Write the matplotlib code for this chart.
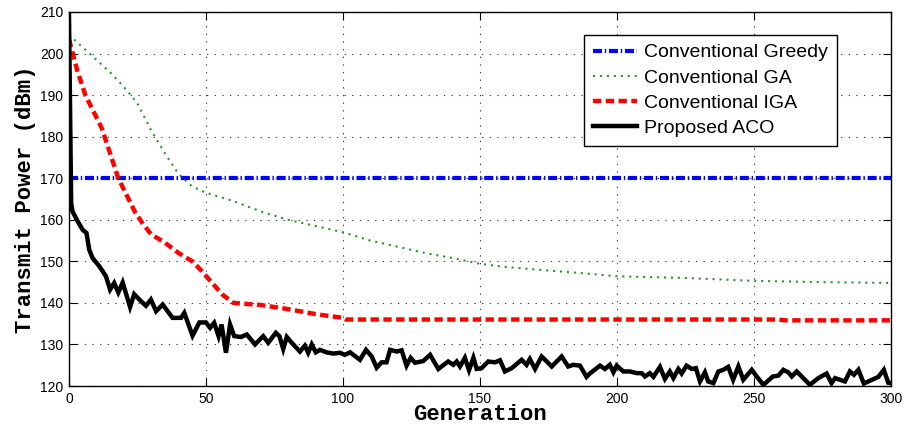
import numpy as np
import matplotlib
matplotlib.use("Agg")
import matplotlib.pyplot as plt

# data
greedy_x = [0, 300]
greedy_y = [170, 170]

ga_x = [0, 5, 10, 15, 20, 25, 30, 35, 40, 45, 50, 60, 70, 80, 90, 100, 110, 120,
        130, 140, 150, 160, 175, 190, 200, 225, 250, 275, 300]
ga_y = [204.5, 201.5, 198.5, 195.5, 192, 188, 181.5, 176, 171, 168, 166.5, 164.5,
        162, 160, 158.5, 157, 155, 153.5, 152, 150.8, 149.4, 148.6, 147.8, 147,
        146.4, 146, 145.3, 145, 144.8]

iga_x = [0, 3, 6, 9, 12, 15, 18, 21, 24, 27, 30, 35, 40, 45, 48, 52, 56, 60, 70,
         80, 90, 100, 101, 258, 262, 300]
iga_y = [203.5, 196, 190, 186, 182, 176, 170, 166, 162, 159, 156.5, 154.5, 152, 150,
         148, 145, 142, 140, 139.5, 138.5, 137.3, 136.4, 136.0, 136.0, 135.8, 135.8]

aco_x = [0, 0.8, 1.3, 3.2, 5, 6.4, 7.4, 8.6, 11.1, 13.5, 15, 16.5, 18, 19.6, 22.3,
         23.8, 25.7, 28.1, 29.9, 31.8, 34.2, 37.8, 40.9, 42.1, 45.1, 47.6, 50, 51.5,
         53, 54.6, 55.7, 57.3, 58.8, 60.3, 62.8, 64.9, 67.9, 70.9, 72.7, 75.5, 76.8,
         78.2, 79.5, 81.3, 84.3, 86.1, 87.3, 88.6, 90.1, 91.6, 94, 96.5, 98.9, 100.7,
         102.6, 106.2, 108.4, 110.5, 112.3, 114.1, 115.9, 117.2, 119.6, 121.4, 123.2,
         124.7, 126.3, 129.3, 131.8, 134.8, 138.4, 140.3, 141.5, 142.7, 144.5, 146,
         147.6, 148.8, 150.6, 153, 155.5, 157.3, 159.1, 161.6, 165.2, 167, 168.2,
         170.1, 172.5, 176.2, 179.8, 182.2, 184.1, 186.5, 188.9, 190.1, 193.8, 195.6,
         197.4, 198.7, 199.9, 202.3, 204.7, 207.2, 209, 210.2, 212, 213.3, 215.7,
         217.5, 219.3, 220.6, 222.4, 223.6, 225.4, 227.3, 228.8, 230.3, 232.1, 233.3,
         235.2, 237, 238.8, 240.6, 242.4, 244.3, 246.1, 249.2, 251, 253.4, 254,
         256.9, 258.9, 260.7, 262.5, 263.8, 265.6, 270.4, 273.5, 276.5, 278.3, 279.6,
         283.2, 285, 286.5, 288.1, 290.1, 295.4, 297.4, 299, 300]
aco_y = [210, 164, 162, 159.6, 157.6, 156.8, 152.8, 150.8, 148.8, 146.4, 143.2,
         144.8, 142.5, 144.9, 139, 142.1, 140.8, 139.3, 140.8, 138, 139.6, 136.4,
         136.4, 137.6, 132.1, 135.3, 135.3, 134, 135.2, 132, 134.8, 128, 134.8, 132,
         131.8, 132.4, 130, 132, 130.4, 132.8, 132, 128.9, 131.8, 130.4, 128.3, 129.7,
         128, 130, 128.1, 128.7, 128.1, 127.8, 128, 127.5, 128.1, 126.3, 128.7, 127.1,
         124.4, 125.7, 125.7, 128.7, 128.3, 128.6, 124.9, 126.8, 125.6, 126, 127.5,
         124.1, 125.9, 125.1, 125.9, 124.7, 126.8, 123.8, 126.8, 124.1, 124.3, 125.9,
         125.7, 126.2, 123.5, 124.3, 126.3, 125.1, 126.5, 124.1, 127.1, 124.7, 127.1,
         124.7, 125.1, 124.9, 122.2, 123, 124.9, 124.1, 125.1, 123.3, 124.9, 123.5,
         123.5, 123.1, 123.1, 122.3, 123.1, 122.2, 124.6, 121.7, 123.5, 121.9, 124.1,
         123, 124.9, 124.1, 124.3, 121.1, 123.3, 121.1, 120.7, 123.5, 123.9, 124.6,
         121.5, 124.7, 121.5, 123.9, 122.3, 120.3, 120.6, 122.3, 122.5, 123.9, 123.3,
         122.3, 123.5, 120.3, 121.9, 123, 120.7, 121.9, 121.1, 123.5, 122.7, 123.9,
         120.6, 122.2, 123.9, 120.8, 120.7]

x_ticks = [0, 50, 100, 150, 200, 250, 300]
y_ticks = [120, 130, 140, 150, 160, 170, 180, 190, 200, 210]

plt.rcParams["font.family"] = "Liberation Sans"
plt.rcParams["lines.scale_dashes"] = False

fig = plt.figure(figsize=(9.05, 4.30), dpi=100)
ax = fig.add_axes([0.0762, 0.1023, 0.9083, 0.8698])

ax.plot(greedy_x, greedy_y, color="#0000ff", lw=3, ls=(0, (6.5, 2, 1.0, 2)),
        label="Conventional Greedy", solid_capstyle="butt", dash_capstyle="butt")
ax.plot(ga_x, ga_y, color="#2a962a", lw=1.5, ls=(0, (1.5, 3.5)),
        label="Conventional GA", dash_capstyle="butt")
ax.plot(iga_x, iga_y, color="#ff0000", lw=3.2, ls=(0, (6, 3.2)),
        label="Conventional IGA", dash_capstyle="butt")
ax.plot(aco_x, aco_y, color="black", lw=3.2, label="Proposed ACO", solid_joinstyle="miter")

ax.set_xlim(0, 300)
ax.set_ylim(120, 210)
ax.set_xticks(x_ticks)
ax.set_yticks(y_ticks)
ax.tick_params(direction="in", length=5.5, width=0.8, top=True, right=True,
               labelsize=10, pad=4)
ax.grid(True, color="#444444", lw=0.8, ls=(0, (1, 4.5)))
for s in ax.spines.values():
    s.set_linewidth(1)

ax.set_xlabel("Generation", family="Liberation Mono", weight="bold", fontsize=16,
              labelpad=-1)
ax.set_ylabel("Transmit Power (dBm)", family="Liberation Mono", weight="bold",
              fontsize=16, labelpad=3)

leg = ax.legend(loc="upper right", bbox_to_anchor=(0.934, 0.9385), borderaxespad=0,
                fontsize=14, fancybox=False, framealpha=1, edgecolor="black",
                handlelength=2.3, handletextpad=0.35, labelspacing=0.39, borderpad=0.45)
leg.get_frame().set_linewidth(1)

fig.savefig("out.png", dpi=100)
